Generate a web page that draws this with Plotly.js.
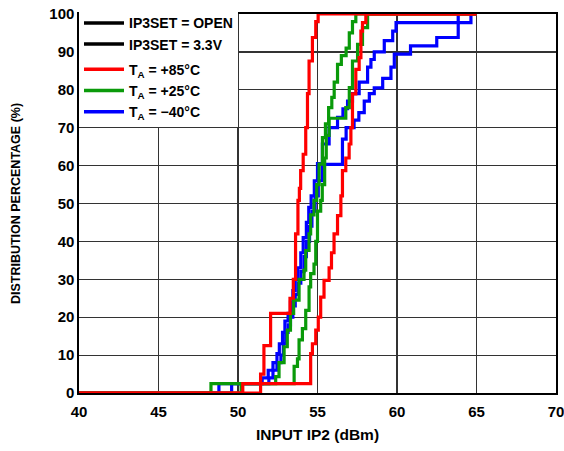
<!DOCTYPE html>
<html>
<head>
<meta charset="utf-8">
<script src="https://cdn.plot.ly/plotly-3.0.1.min.js"></script>
<style>html,body{margin:0;padding:0;background:#fff;}#chart{width:564px;height:451px;}</style>
</head>
<body>
<div id="chart"></div>
<script>
// Input IP2 (dBm) vs cumulative distribution (%)
// Red: TA = +85°C
const r1x = [40, 51.42, 51.63, 52.05, 53.27, 53.48, 53.62, 53.77, 53.86, 53.94, 54.1, 54.26, 54.37, 54.47, 54.68, 54.89, 55.04, 65];
const r1y = [0, 5, 12.5, 21, 25, 30, 42, 50.8, 54, 58.7, 63, 70, 79, 87.6, 93.8, 98, 100, 100];
const r2x = [40, 50.3, 54.57, 54.68, 54.89, 55.05, 55.2, 55.41, 55.73, 55.88, 56.04, 56.26, 56.47, 56.57, 56.78, 56.99, 57.1, 57.2, 57.41, 57.62, 57.73, 57.83, 58.04, 65];
const r2y = [0, 2.5, 10.4, 13, 16.6, 20, 25.3, 29.7, 33, 37, 42, 46.8, 52, 58.7, 62, 65.7, 70, 78.9, 85.4, 88.5, 95.5, 97.7, 100, 100];
// Green: TA = +25°C
const g1x = [40, 48.3, 52.37, 52.58, 52.9, 53.1, 53.3, 53.5, 53.84, 54.15, 54.26, 54.47, 54.57, 54.78, 54.95, 55.1, 55.31, 55.5, 55.7, 55.9, 56.05, 56.26, 56.5, 56.8, 57.0, 57.2, 57.41, 65];
const g1y = [0, 2.5, 4.3, 8, 12.2, 16.6, 21, 24.5, 30, 32.4, 37.6, 42, 47, 50.8, 55, 60.4, 67.4, 71, 75.3, 78, 82, 86.7, 89, 91, 95, 98, 100, 100];
const g2x = [40, 50.2, 53.53, 53.74, 53.84, 54.05, 54.26, 54.47, 54.57, 54.78, 54.89, 55.0, 55.2, 55.3, 55.45, 55.55, 55.73, 56.78, 57.0, 57.2, 57.52, 57.83, 58.15, 65];
const g2y = [0, 2.5, 7, 9, 14, 17, 21.8, 28, 31.5, 34, 40, 48, 50.8, 55, 62, 68, 72.5, 75.3, 80.6, 87.6, 92, 96.4, 100, 100];
// Blue: TA = -40°C
const b1x = [40, 48.8, 51.52, 51.9, 52.2, 52.45, 52.6, 52.8, 52.95, 53.15, 53.3, 53.45, 53.6, 53.75, 53.95, 54.1, 54.3, 54.45, 54.6, 54.8, 55.0, 55.31, 55.73, 56.26, 56.6, 56.89, 57.2, 57.62, 58.15, 58.36, 58.57, 59.2, 59.73, 59.94, 63.85, 65];
const b1y = [0, 2.5, 4, 6, 8, 10.4, 13, 16, 19, 21, 24, 27, 30, 33, 37, 41, 45, 49, 52, 56, 60.5, 65.7, 70, 72.7, 75, 77, 79, 82, 86, 88, 90, 93, 95.5, 97.7, 100, 100];
const b2x = [40, 49.6, 51.94, 52.2, 52.45, 52.7, 52.85, 53.0, 53.15, 53.3, 53.45, 53.6, 53.8, 53.95, 54.15, 54.3, 54.5, 54.65, 54.85, 55.05, 55.3, 56.57, 56.8, 57.3, 57.6, 57.94, 58.26, 58.57, 59.1, 59.62, 59.83, 60.85, 62.5, 63.85, 64.65, 65];
const b2y = [0, 2.5, 4, 6, 8, 10, 13, 16, 18, 20, 23, 26, 29, 32, 36, 40, 44, 48, 52, 56, 60.3, 67, 70, 72, 74, 77, 79, 80.5, 83, 86, 89.4, 91.6, 93.8, 97.7, 100, 100];

const legendNames = ['IP3SET = OPEN', 'IP3SET = 3.3V', 'T<sub>A</sub> = +85°C', 'T<sub>A</sub> = +25°C', 'T<sub>A</sub> = \u221240°C'];
const xTicks = [40, 45, 50, 55, 60, 65, 70];
const yTicks = [0, 10, 20, 30, 40, 50, 60, 70, 80, 90, 100];

const RED = '#ff0000', GREEN = '#0a9a0a', BLUE = '#0000ff';
const LW = 3.2;

function curve(x, y, color) {
  return {x: x, y: y, type: 'scatter', mode: 'lines', line: {color: color, width: LW, shape: 'hv'}, showlegend: false, hoverinfo: 'skip'};
}
function legendItem(name, color, group) {
  return {x: [null], y: [null], type: 'scatter', mode: 'lines', name: name, legendgroup: group, line: {color: color, width: 3.5}, showlegend: true};
}

const data = [
  legendItem(legendNames[0], '#000', 'a'),
  legendItem(legendNames[1], '#000', 'a'),
  legendItem(legendNames[2], RED, 'b'),
  legendItem(legendNames[3], GREEN, 'b'),
  legendItem(legendNames[4], BLUE, 'b'),
  curve(b1x, b1y, BLUE),
  curve(b2x, b2y, BLUE),
  curve(g1x, g1y, GREEN),
  curve(g2x, g2y, GREEN),
  curve(r2x, r2y, RED),
  curve(r1x, r1y, RED)
];

const layout = {
  width: 564, height: 451,
  margin: {l: 79, r: 8, t: 13, b: 58},
  paper_bgcolor: '#fff', plot_bgcolor: '#fff',
  font: {family: 'Liberation Sans, Arial, sans-serif', size: 15, color: '#000', weight: 'bold'},
  showlegend: true,
  legend: {x: 0, y: 1.015, xanchor: 'left', yanchor: 'top', bgcolor: '#fff', borderwidth: 0,
           font: {size: 14, weight: 'bold'}, traceorder: 'grouped', tracegroupgap: 4, itemwidth: 40},
  xaxis: {range: [40, 70], tickvals: xTicks, ticktext: xTicks.map(String), showgrid: true, gridcolor: '#333', gridwidth: 1.2,
          zeroline: false, showline: true, linecolor: '#000', linewidth: 1.6, mirror: true, ticks: '', ticklabelstandoff: 4,
          ticklabeloverflow: 'allow', tickfont: {size: 15, weight: 'bold'},
          title: {text: 'INPUT IP2 (dBm)', font: {size: 15.5, weight: 'bold'}, standoff: 10}},
  yaxis: {range: [0, 100], tickvals: yTicks, ticktext: yTicks.map(String), showgrid: true, gridcolor: '#333', gridwidth: 1.2,
          zeroline: false, showline: true, linecolor: '#000', linewidth: 1.6, mirror: true, ticks: '',
          ticklabeloverflow: 'allow', tickfont: {size: 15, weight: 'bold'},
          title: {text: 'DISTRIBUTION PERCENTAGE (%)', font: {size: 12.5, weight: 'bold'}, standoff: 26}}
};

Plotly.newPlot('chart', data, layout, {displayModeBar: false, staticPlot: true});
</script>
</body>
</html>
